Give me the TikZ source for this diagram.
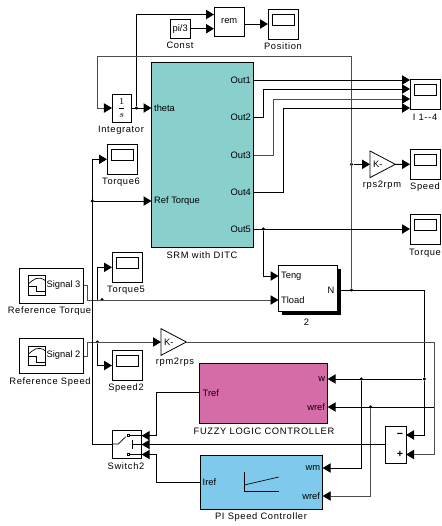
\documentclass[tikz,border=0pt]{standalone}
\usepackage{fontspec}
\setmainfont{Liberation Sans}
\newfontfamily\capfont[LetterSpace=7]{Liberation Sans}
\usetikzlibrary{arrows.meta,shapes.geometric}
\definecolor{srmcol}{HTML}{89CFCB}
\definecolor{flccol}{HTML}{D56CA8}
\definecolor{picol}{HTML}{7FC9EC}

\begin{document}
\begin{tikzpicture}[
  x=0.75pt, y=-0.75pt,
  font=\fontsize{7}{8}\selectfont,
  >={Triangle[length=6pt,width=7pt,color=black]},
  blk/.style={draw=black, fill=#1, line width=0.6pt, inner sep=0pt, outer sep=0pt},
  blk/.default=white,
  scopeblk/.style={blk, minimum width=22.5pt, minimum height=22.5pt},
  gain/.style={blk, isosceles triangle, isosceles triangle stretches, minimum width=20pt, minimum height=19pt, anchor=west, align=left},
  lbl/.style={font=\fontsize{7}{8}\selectfont\capfont, inner sep=0pt},
  portl/.style={inner sep=2pt, outer sep=0pt, anchor=west},
  portr/.style={inner sep=2pt, outer sep=0pt, anchor=east},
  sig/.style={line width=0.75pt, draw=black},
  sigthin/.style={line width=0.6pt, draw=black!70},
  dot/.style={circle, fill=black, inner sep=0pt, minimum size=2.6pt},
  icon/.style={line width=0.5pt, draw=black},
]
\useasboundingbox (0,0) rectangle (442,526);
% ---- top row ----
\node[blk, minimum width=15.4pt, minimum height=14.6pt] (const) at (180.2,28.7) {pi/3};
\node[blk, minimum width=22.9pt, minimum height=21.8pt] (rem) at (229.2,21.5) {rem};
\node[scopeblk] (position) at (283,24) {};
\node[lbl] (constl) at (180,45) {Const};
\node[lbl] (positionl) at (283,46) {Position};
\coordinate (rema) at (214,14.5);
\coordinate (remb) at (214,28.7);

% ---- machine ----
\node[blk=srmcol, minimum width=76.5pt, minimum height=139pt] (srm) at (202.5,154.7) {};
\node[lbl] (srml) at (202,255) {SRM with DITC};
\node[portl] (theta) at (151.5,108) {theta};
\node[portl] (reft) at (151.5,201) {Ref Torque};
\node[portr] (out1) at (253.5,80) {Out1};
\node[portr] (out2) at (253.5,117) {Out2};
\node[portr] (out3) at (253.5,155) {Out3};
\node[portr] (out4) at (253.5,192) {Out4};
\node[portr] (out5) at (253.5,229) {Out5};
\node[blk, minimum width=14.6pt, minimum height=21pt] (integ) at (121.7,108) {$\displaystyle\frac{1}{s}$};
\node[lbl] (integl) at (121,130) {Integrator};

% ---- load block ----
\node[blk, minimum width=43.9pt, minimum height=34.5pt] (motor) at (307.7,288) {};
\fill[black] (282,269) rectangle (341,315);
\node[blk, minimum width=43.9pt, minimum height=34.5pt] at (motor.center) {};
\node[portl] (teng) at (278.5,276) {Teng};
\node[portl] (tload) at (278.5,300) {Tload};
\node[portr] (nport) at (337,290) {N};
\node[lbl] (motorl) at (306.5,322) {2};

% ---- scopes ----
\node[scopeblk] (i14) at (425,94) {};
\node[scopeblk] (speed) at (425,164.3) {};
\node[scopeblk] (torque) at (425,229) {};
\node[scopeblk] (torque6) at (122,159.3) {};
\node[scopeblk] (torque5) at (127,267.3) {};
\node[scopeblk] (speed2) at (127,365.5) {};
\foreach \n in {position, i14, speed, torque, torque6, torque5, speed2}
  \draw[icon] ([shift={(-10.5,-10)}]\n.center) rectangle ([shift={(11,1)}]\n.center);
\node[lbl] (i14l) at (425,117) {I 1{-}{-}4};
\node[lbl] (speedl) at (425,187) {Speed};
\node[lbl] (torquel) at (425,253) {Torque};
\node[lbl] (torque6l) at (121,182) {Torque6};
\node[lbl] (torque5l) at (126,290) {Torque5};
\node[lbl] (speed2l) at (126,388) {Speed2};
\coordinate (i1) at (410,80);
\coordinate (i2) at (410,89);
\coordinate (i3) at (410,99);
\coordinate (i4) at (410,108);

% ---- gains ----
\node[gain] (rps) at (370,164.3) {K-};
\node[gain] (rpm) at (161,342) {K-};
\node[lbl] (rpsl) at (382,185) {rps2rpm};
\node[lbl] (rpml) at (175,362) {rpm2rps};

% ---- sources ----
\node[blk, minimum width=48.3pt, minimum height=26.2pt] (sig3) at (51.5,285.8) {};
\node[blk, minimum width=48.3pt, minimum height=26.2pt] (sig2) at (51.5,356) {};
\foreach \n in {sig3, sig2} {
  \draw[icon] ([shift={(-23.2,-10)}]\n.center) rectangle ([shift={(-5.8,9.2)}]\n.center);
  \draw[icon] ([shift={(-23.2,0.2)}]\n.center) -- ([shift={(-14.8,0.2)}]\n.center) -- ([shift={(-14.8,6)}]\n.center) -- ([shift={(-5.8,6)}]\n.center);
  \draw[icon] ([shift={(-23.2,-1.8)}]\n.center) .. controls ([shift={(-18,-6)}]\n.center) and ([shift={(-14,-11)}]\n.center) .. ([shift={(-5.8,-5)}]\n.center);
}
\node[inner sep=0pt] (sig3t) at (63.5,285) {Signal 3};
\node[inner sep=0pt] (sig2t) at (63.5,355.5) {Signal 2};
\node[lbl] (sig3l) at (49.5,311) {Reference Torque};
\node[lbl] (sig2l) at (50,382) {Reference Speed};

% ---- controllers ----
\node[blk=flccol, minimum width=96pt, minimum height=45pt] (flc) at (263.8,393.3) {};
\node[blk=picol, minimum width=92pt, minimum height=40.2pt] (pic) at (261.3,482.5) {};
\node[portl] (tref) at (200,392.7) {Tref};
\node[portl] (iref) at (200,482.3) {Iref};
\node[portr] (wp) at (327.7,379) {w};
\node[portr] (wrefa) at (327.7,407) {wref};
\node[portr] (wm) at (322.7,468) {wm};
\node[portr] (wrefb) at (322.7,496) {wref};
\node[lbl] (flcl) at (264,431) {FUZZY LOGIC CONTROLLER};
\node[lbl] (picl) at (261,517) {PI Speed Controller};
\draw[icon] (244.3,472) -- (244.3,491.7) -- (278.7,491.7);
\draw[icon] (244.3,485) -- (278.7,477);

% ---- switch and sum ----
\node[blk, minimum width=22pt, minimum height=21pt] (switch) at (127,444) {};
\node[lbl] (switchl) at (126,466) {Switch2};
\draw[icon] (switch.west) -- (118.3,444) -- (126,436.5);
\draw[icon] (128.3,435.7) -- (141.7,435.7);
\draw[icon] (128.3,454.5) -- (141.7,454.5);
\draw[icon] (132.7,440) -- (132.7,449);
\draw[icon] (132.7,444.5) -- (141.7,444.5);
\fill[white, draw=black, line width=0.4pt] (127,434.7) rectangle (129,436.7);
\fill[white, draw=black, line width=0.4pt] (127,453.5) rectangle (129,455.5);
\coordinate (swa) at (141.7,435.7);
\coordinate (swb) at (141.7,444.5);
\coordinate (swc) at (141.7,454.5);
\node[blk, minimum width=15.7pt, minimum height=27.7pt] (sum) at (395.5,444.5) {};
\node[inner sep=0pt, font=\fontsize{8}{9}\selectfont\bfseries] (summ) at (400,435) {−};
\node[inner sep=0pt, font=\fontsize{8}{9}\selectfont\bfseries] (sump) at (400,454.5) {+};
\coordinate (suma) at (406,435);
\coordinate (sumb) at (406,454.5);

% ---- junctions ----
\node[dot] (jint) at (136.3,108) {};
\node[dot] (jref) at (92.4,201) {};
\node[dot] (jout) at (263.3,229) {};
\node[dot] (jn) at (351.5,290) {};
\node[dot] (jrps) at (351.5,164.3) {};
\node[dot] (jtq) at (102,299.5) {};
\node[dot] (jsp) at (97.4,342) {};
\node[dot] (jw) at (424.3,379) {};
\node[dot] (jwm) at (361.3,379) {};
\node[dot] (jwr) at (370.7,407) {};
\coordinate (jfb) at (97.5,56.5);
\coordinate (jtq5) at (97.4,299.5);
\coordinate (jtr) at (434.3,407);

% ---- flows ----
\draw[sig,->] (const.east) -- (remb);
\draw[sig,->] (rem.east |- position.west) -- (position.west);
\draw[sig,->] (integ.east) -- (theta.west);
\draw[sig,->] (jint) |- (rema);
\draw[sigthin,->] (jn) |- (jfb) |- (integ.west);
\draw[sig,->] (out1.east) -- (i1);
\draw[sig,->] (out2.east) -- ++(10,0) |- (i2);
\draw[sigthin,->] (out3.east) -- ++(20,0) |- (i3);
\draw[sig,->] (out4.east) -- ++(30,0) |- (i4);
\draw[sig,->] (jrps) -- (rps.west);
\draw[sig,->] (rps.east) -- (speed.west);
\draw[sig,->] (out5.east) -- (torque.west);
\draw[sig,->] (jout) |- (teng.west);
\draw[sig,->] (nport.east) -| (jw) |- (suma);
\draw[sig,->] (jw) -- (wp.east);
\draw[sig,->] (jwm) |- (wm.east);
\draw[sig,->] (jtr) -- (wrefa.east);
\draw[sigthin,->] (jwr) |- (wrefb.east);
\draw[sigthin,->] (sig3.east) -- ++(3.6,0) |- (tload.west);
\draw[sig,->] (jtq5) |- (torque5.west);
\draw[sigthin,->] (sig2.east) -- ++(3.6,0) |- (rpm.west);
\draw[sigthin,->] (rpm.east) -| (jtr) |- (sumb);
\draw[sig,->] (jsp) |- (speed2.west);
\draw[sig,->] (sum.west) -- (swb);
\draw[sig,->] (tref.west) -- ++(-43.3,0) |- (swa);
\draw[sig,->] (iref.west) -- ++(-43.3,0) |- (swc);
\draw[sig,->] (switch.west) -- ++(-19.9,0) |- (torque6.west);
\draw[sig,->] (jref) -- (reft.west);
\end{tikzpicture}
\end{document}
